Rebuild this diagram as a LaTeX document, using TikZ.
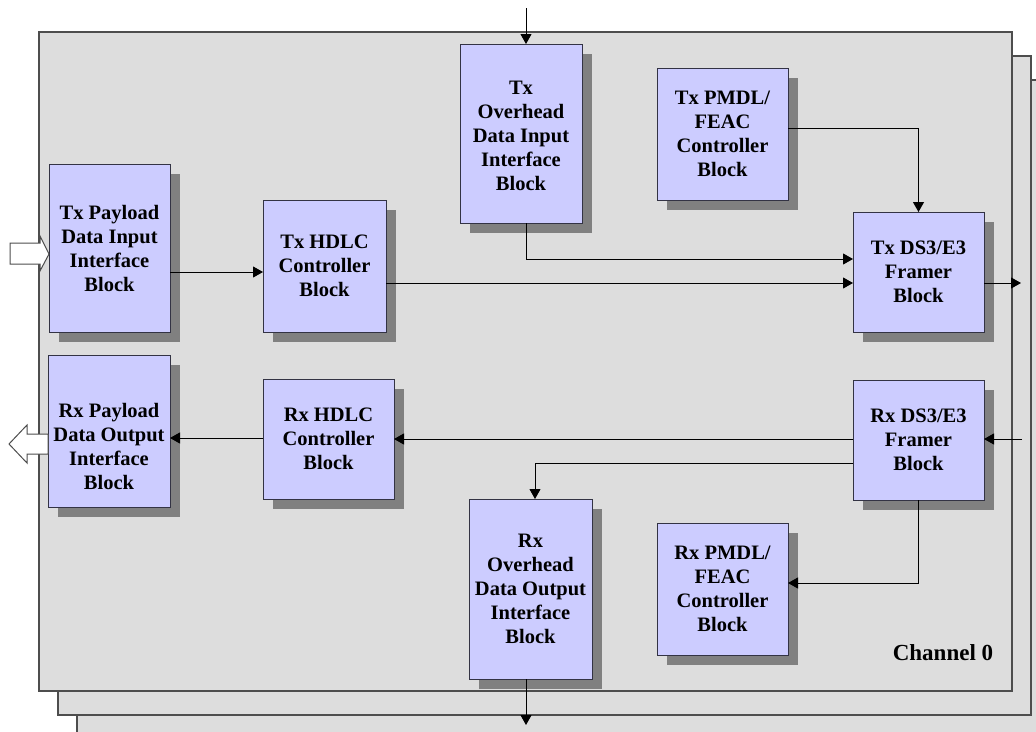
\documentclass[tikz,border=0pt]{standalone}
\usepackage{fontspec}
\setmainfont{Liberation Serif}
\usetikzlibrary{arrows.meta,shadows,calc}
\definecolor{panelfill}{HTML}{DDDDDD}
\definecolor{paneldraw}{HTML}{4D4D4D}
\definecolor{boxfill}{HTML}{CCCCFF}
\definecolor{boxdraw}{HTML}{333344}
\definecolor{shadowgray}{HTML}{808080}
\begin{document}
\begin{tikzpicture}[x=1pt,y=-1pt,
  panel/.style={fill=panelfill,draw=paneldraw,line width=1.2pt},
  blk/.style={draw=boxdraw,fill=boxfill,line width=1pt,outer sep=0pt,inner sep=0pt,
    anchor=north west,align=center,font=\fontsize{20.5}{24}\selectfont\bfseries,
    drop shadow={shadow xshift=10pt,shadow yshift=-10pt,fill=shadowgray,opacity=1}},
  conn/.style={line width=1pt,draw=black},
  arr/.style={conn,-{Triangle[length=10pt,width=11pt]}},
  hollow/.style={fill=white,draw=paneldraw,line width=1pt},
  lbl/.style={font=\fontsize{20.5}{24}\selectfont\bfseries,inner sep=0pt,align=center}
]
\useasboundingbox (0,0) rectangle (1036,731);
% stacked channel panels
\begin{scope}
  \clip (0,0) rectangle (1036,731);
  \draw[panel] (77,80) rectangle (1060,760);
\end{scope}
\draw[panel] (58,56) rectangle (1031,715);
\draw[panel] (39,32) rectangle (1012,691);

% blocks
\node[blk,minimum width=121pt,minimum height=168pt] (txpay) at (49,164) {Tx Payload\\Data Input\\Interface\\Block};
\node[blk,minimum width=123pt,minimum height=132pt] (txhdlc) at (263,200) {Tx HDLC\\Controller\\Block};
\node[blk,minimum width=122pt,minimum height=179pt] (txoh) at (460,44) {};
\node[lbl] (txohtxt) at ($(txoh.center)+(0,2)$) {Tx\\Overhead\\Data Input\\Interface\\Block};
\node[blk,minimum width=131pt,minimum height=132pt] (txpmdl) at (657,68) {Tx PMDL/\\FEAC\\Controller\\Block};
\node[blk,minimum width=131pt,minimum height=120pt] (txds3) at (853,212) {Tx DS3/E3\\Framer\\Block};
\node[blk,minimum width=131pt,minimum height=120pt] (rxds3) at (853,380) {Rx DS3/E3\\Framer\\Block};
\node[blk,minimum width=131pt,minimum height=120pt] (rxhdlc) at (263,379) {Rx HDLC\\Controller\\Block};
\node[blk,minimum width=122pt,minimum height=152pt] (rxpay) at (48,355) {};
\node[lbl] (rxpaytxt) at ($(rxpay.center)+(0,15)$) {Rx Payload\\Data Output\\Interface\\Block};
\node[blk,minimum width=123pt,minimum height=180pt] (rxoh) at (469,499) {Rx\\Overhead\\Data Output\\Interface\\Block};
\node[blk,minimum width=131pt,minimum height=132pt] (rxpmdl) at (657,523) {Rx PMDL/\\FEAC\\Controller\\Block};

\node[lbl,font=\fontsize{23}{27}\selectfont\bfseries,anchor=center] (ch) at (943,653) {Channel 0};

% external coordinates
\coordinate (txohin) at (526,8);
\coordinate (txdsout) at (1021,283);
\coordinate (rxdsin) at (1022,439);
\coordinate (rxohout) at (526,725);

% connectors
\draw[arr] ($(txpay.east)+(0,24)$) -- ($(txhdlc.west)+(0,6)$);
\draw[arr] (txohin) -- (txohin |- txoh.north);
\draw[arr] (txohin |- txoh.south) |- ($(txds3.west)+(0,-13)$);
\draw[arr] ($(txhdlc.east)+(0,17)$) -- ($(txds3.west)+(0,11)$);
\draw[arr] ($(txpmdl.east)+(0,-6)$) -| (txds3.north);
\draw[arr] ($(txds3.east)+(0,11)$) -- (txdsout);
\draw[arr] (rxdsin) -- (rxdsin -| rxds3.east);
\draw[arr] ($(rxds3.west)+(0,-1)$) -- ($(rxhdlc.east)+(0,0)$);
\draw[arr] ($(rxhdlc.west)+(0,-1)$) -- ($(rxpay.east)+(0,7)$);
\coordinate (rxohin) at ($(rxoh.north)+(4.5,0)$);
\draw[arr] ($(rxds3.west)+(0,23)$) -| (rxohin);
\draw[arr] (rxds3.south) |- ($(rxpmdl.east)+(0,-6)$);
\draw[arr] (rxohout |- rxoh.south) -- (rxohout);

% hollow interface arrows
\coordinate (tin) at ($(txpay.west)+(0,6)$);
\draw[hollow] (tin) -- ++(-9,-18) -- ++(0,7) -- ++(-30,0) -- ++(0,21) -- ++(30,0) -- ++(0,7) -- cycle;
\coordinate (rout) at ($(rxpay.west)+(-39,13)$);
\draw[hollow] (rout) -- ++(18,-19) -- ++(0,9) -- ++(21,0) -- ++(0,20) -- ++(-21,0) -- ++(0,9) -- cycle;
\end{tikzpicture}
\end{document}
